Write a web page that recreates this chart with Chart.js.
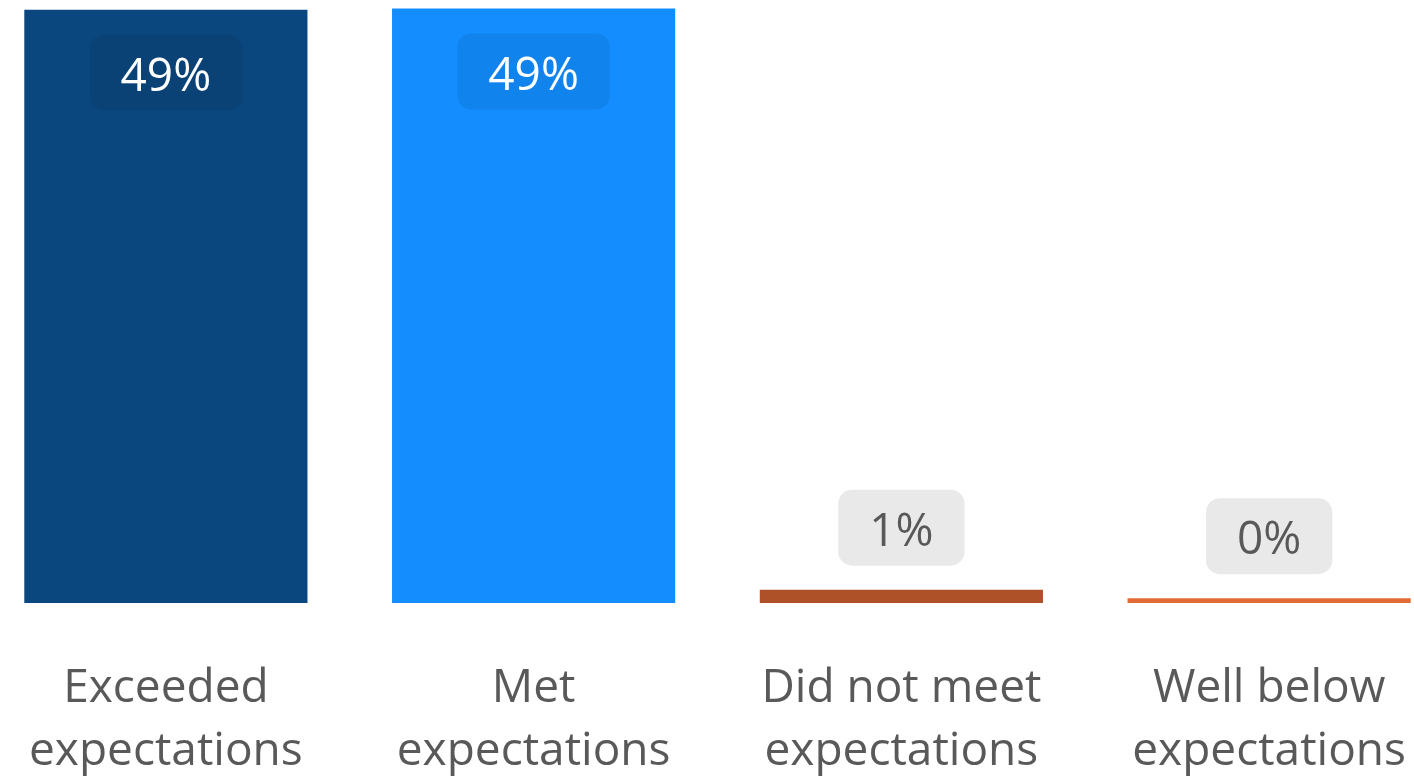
<!DOCTYPE html>
<html>
<head>
<meta charset="utf-8">
<script src="https://cdn.jsdelivr.net/npm/chart.js@4"></script>
<style>
  html, body { margin: 0; padding: 0; background: #fff; overflow: hidden; }
  #wrap { position: absolute; left: -18px; top: 0; width: 1471px; height: 780px; }
</style>
</head>
<body>
<div id="wrap"><canvas id="chart" width="1471" height="780"></canvas></div>
<script>
const categories = [
  ["Exceeded", "expectations"],
  ["Met", "expectations"],
  ["Did not meet", "expectations"],
  ["Well below", "expectations"]
];
const shares = [49.0, 49.1, 1.1, 0.4];
const barColors = ["#0B477F", "#138DFF", "#AE5128", "#E26B35"];

const FONT = "'Open Sans', 'Noto Sans', sans-serif";

// rounded value boxes: inside the tall bars, above the short ones
const valueBoxes = {
  id: "valueBoxes",
  afterDatasetsDraw(chart) {
    const ctx = chart.ctx;
    const meta = chart.getDatasetMeta(0);
    ctx.save();
    ctx.font = "46px " + FONT;
    ctx.textAlign = "center";
    ctx.textBaseline = "middle";
    meta.data.forEach((bar, i) => {
      const txt = Math.round(shares[i]) + "%";
      const w = ctx.measureText(txt).width + 62;
      const h = 76;
      const inside = (bar.base - bar.y) > 150;
      const top = inside ? bar.y + 25 : bar.y - 24 - h;
      ctx.beginPath();
      ctx.roundRect(bar.x - w / 2, top, w, h, 14);
      ctx.fillStyle = inside ? "rgba(0,0,0,0.07)" : "#E9E9E9";
      ctx.fill();
      ctx.fillStyle = inside ? "#FFFFFF" : "#595959";
      ctx.fillText(txt, bar.x, top + h / 2 + 5);
    });
    ctx.restore();
  }
};

new Chart(document.getElementById("chart"), {
  type: "bar",
  data: {
    labels: categories,
    datasets: [{
      data: shares,
      backgroundColor: barColors,
      barPercentage: 0.77,
      categoryPercentage: 1
    }]
  },
  options: {
    responsive: false,
    animation: false,
    layout: { padding: 0 },
    plugins: { legend: { display: false }, tooltip: { enabled: false } },
    scales: {
      x: {
        grid: { display: false },
        border: { display: false },
        ticks: {
          color: "#595959",
          font: { family: FONT, size: 46, lineHeight: 1.37 },
          padding: 46,
          maxRotation: 0,
          autoSkip: false
        },
        afterFit(scale) { scale.height = 177; }
      },
      y: {
        display: false,
        min: 0,
        max: 49.8
      }
    }
  },
  plugins: [valueBoxes]
});
</script>
</body>
</html>
